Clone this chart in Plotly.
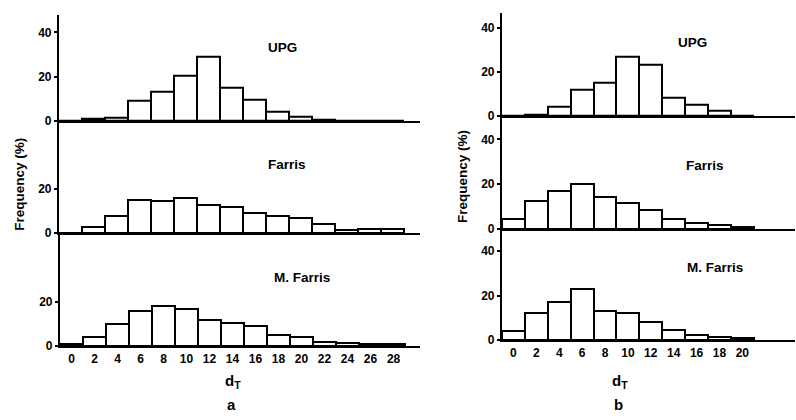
import plotly.graph_objects as go

# ---- data ----
bins_a = [0, 2, 4, 6, 8, 10, 12, 14, 16, 18, 20, 22, 24, 26, 28]
upg_a = [0.2, 0.8, 1.5, 9.0, 13.2, 20.3, 29.0, 15.0, 9.5, 4.1, 2.0, 0.4, 0.0, 0.3, 0.3]
farris_a = [0.0, 2.7, 7.7, 14.8, 14.5, 16.0, 12.7, 11.6, 9.2, 7.7, 6.8, 4.0, 1.5, 2.0, 2.0]
mfarris_a = [1.0, 4.0, 10.2, 15.9, 18.2, 16.8, 12.0, 10.5, 9.2, 5.2, 4.0, 2.0, 1.5, 1.0, 0.8]

bins_b = [0, 2, 4, 6, 8, 10, 12, 14, 16, 18, 20]
upg_b = [0.0, 0.7, 4.0, 12.1, 15.2, 27.0, 23.4, 8.4, 4.9, 2.5, 0.0]
farris_b = [4.4, 12.3, 17.1, 20.0, 14.2, 11.7, 8.6, 4.4, 2.9, 1.9, 1.0]
mfarris_b = [4.1, 12.3, 17.1, 22.8, 13.0, 12.0, 7.9, 4.5, 2.3, 1.3, 0.9]

names = ["UPG", "Farris", "M. Farris"]
W, H = 796, 420
FONT = "Liberation Sans"

def px_x(p):
    return p / W

def px_y(p):
    return 1 - p / H

fig = go.Figure()

panels = [
    ("x", "y", bins_a, upg_a, (59, 420), (-1, 30.4), (123, 15), (0, 48), [0, 20, 40], False),
    ("x2", "y2", bins_a, farris_a, (59, 420), (-1, 30.4), (237, 123), (0, 50.7), [0, 20], False),
    ("x3", "y3", bins_a, mfarris_a, (60, 420), (-1, 30.3), (352, 237), (0, 51.1), [0, 20], True),
    ("x4", "y4", bins_b, upg_b, (502, 795), (-1, 24.6), (118, 13), (0, 46.7), [0, 20, 40], False),
    ("x5", "y5", bins_b, farris_b, (502, 795), (-1, 24.6), (233, 118), (0, 50.4), [0, 20, 40], False),
    ("x6", "y6", bins_b, mfarris_b, (502, 795), (-1, 24.6), (346, 233), (0, 49.8), [0, 20, 40], True),
]

layout = {}
for i, (xa, ya, xs, ys, xd, xr, yd, yr, yt, showx) in enumerate(panels):
    fig.add_trace(go.Bar(
        x=xs, y=ys, xaxis=xa, yaxis=ya, width=2,
        marker=dict(color="white", line=dict(color="black", width=2)),
        showlegend=False,
    ))
    xkey = "xaxis" if xa == "x" else "xaxis" + xa[1:]
    ykey = "yaxis" if ya == "y" else "yaxis" + ya[1:]
    xaxis = dict(
        domain=[px_x(xd[0]), px_x(xd[1])], range=list(xr), anchor=ya,
        showline=True, linecolor="black", linewidth=2.2, showgrid=False, zeroline=False,
        ticks="", showticklabels=showx,
        tickfont=dict(family=FONT, size=12, color="black", weight="bold"),
    )
    if showx:
        xaxis["tickvals"] = xs
        xaxis["ticktext"] = [str(v) for v in xs]
    layout[xkey] = xaxis
    layout[ykey] = dict(
        domain=[px_y(yd[0]), px_y(yd[1])], range=list(yr), anchor=xa,
        showline=True, linecolor="black", linewidth=2.2, showgrid=False, zeroline=False,
        tickvals=yt, ticks="outside", ticklen=3, tickwidth=1.5, tickcolor="black",
        tickfont=dict(family=FONT, size=12, color="black", weight="bold"),
    )

fig.update_layout(**layout)

ann = []
def label(text, x, y, size=13.5):
    ann.append(dict(text=text, x=px_x(x), y=px_y(y), xref="paper", yref="paper",
                    showarrow=False, xanchor="center", yanchor="middle",
                    font=dict(family=FONT, size=size, color="black", weight="bold")))

label(names[0], 282, 48)
label(names[1], 287, 167)
label(names[2], 302, 282)
label(names[0], 692, 43)
label(names[1], 705, 168)
label(names[2], 715, 272)
label("d<sub>T</sub>", 233, 388, 15)
label("d<sub>T</sub>", 620, 388, 15)
label("a", 231, 411, 15)
label("b", 618, 411, 15)
ann.append(dict(text="Frequency (%)", x=px_x(20), y=px_y(188), xref="paper", yref="paper",
                showarrow=False, textangle=-90, xanchor="center", yanchor="middle",
                font=dict(family=FONT, size=13.5, color="black", weight="bold")))
ann.append(dict(text="Frequency (%)", x=px_x(462), y=px_y(180), xref="paper", yref="paper",
                showarrow=False, textangle=-90, xanchor="center", yanchor="middle",
                font=dict(family=FONT, size=13.5, color="black", weight="bold")))

fig.update_layout(
    annotations=ann, width=W, height=H, margin=dict(l=0, r=0, t=0, b=0),
    paper_bgcolor="white", plot_bgcolor="white", bargap=0,
)

fig.write_html("out.html", config={"displayModeBar": False},
               post_script="document.body.style.margin='0';document.body.style.overflow='hidden';")
